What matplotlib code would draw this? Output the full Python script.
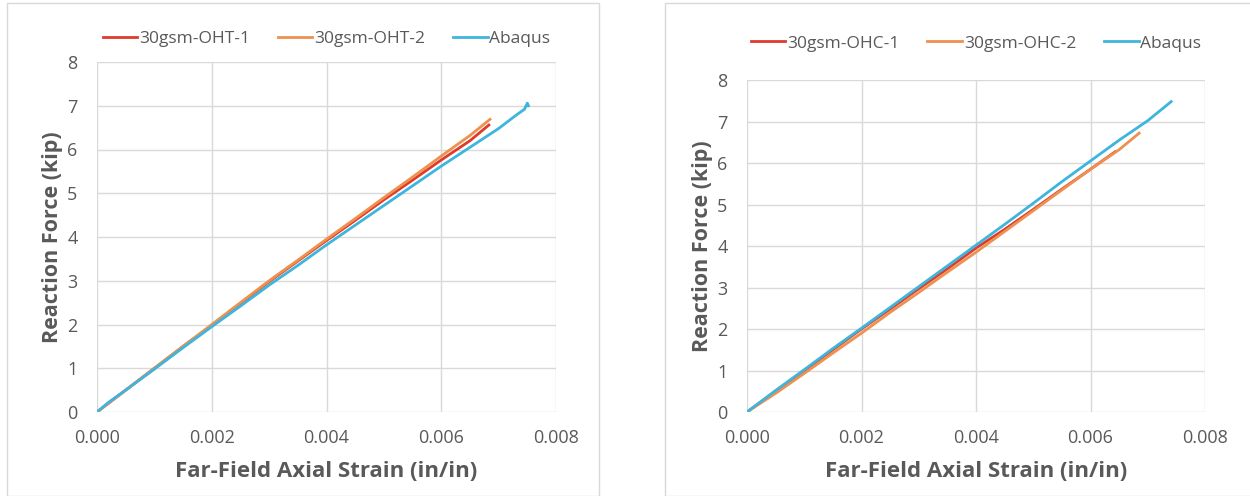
import matplotlib.pyplot as plt
from matplotlib.patches import Rectangle

plt.rcParams['font.family'] = ['Open Sans', 'DejaVu Sans']

# left panel: open-hole tension
oht1_x = [0.0, 0.0002, 0.0005, 0.001, 0.0015, 0.002, 0.0025, 0.003, 0.0035, 0.004, 0.0045, 0.005, 0.0055, 0.006, 0.0065, 0.00683]
oht1_y = [0.0, 0.2, 0.5, 1.0, 1.5, 1.98, 2.48, 2.98, 3.45, 3.92, 4.38, 4.85, 5.3, 5.76, 6.2, 6.56]
oht2_x = [0.0, 0.0002, 0.0005, 0.001, 0.0015, 0.002, 0.0025, 0.003, 0.0035, 0.004, 0.0045, 0.005, 0.0055, 0.006, 0.0065, 0.00685]
oht2_y = [0.0, 0.2, 0.5, 1.0, 1.5, 2.0, 2.5, 3.0, 3.47, 3.95, 4.42, 4.9, 5.37, 5.85, 6.32, 6.69]
abq1_x = [0.0, 0.0002, 0.0005, 0.001, 0.0015, 0.002, 0.0025, 0.003, 0.0035, 0.004, 0.0045, 0.005, 0.0055, 0.006, 0.0065, 0.007, 0.0073, 0.00745, 0.0075, 0.00752]
abq1_y = [0.0, 0.22, 0.5, 0.98, 1.47, 1.95, 2.42, 2.9, 3.35, 3.82, 4.27, 4.72, 5.17, 5.62, 6.05, 6.48, 6.78, 6.92, 7.06, 7.0]

# right panel: open-hole compression
ohc1_x = [0.0, 0.0005, 0.001, 0.0015, 0.002, 0.0025, 0.003, 0.0035, 0.004, 0.0045, 0.005, 0.0055, 0.006, 0.00643]
ohc1_y = [0.0, 0.5, 1.0, 1.5, 2.0, 2.48, 2.97, 3.45, 3.95, 4.4, 4.88, 5.37, 5.85, 6.27]
ohc2_x = [0.0, 0.0005, 0.001, 0.0015, 0.002, 0.0025, 0.003, 0.0035, 0.004, 0.0045, 0.005, 0.0055, 0.006, 0.0065, 0.00685]
ohc2_y = [0.0, 0.45, 0.93, 1.42, 1.9, 2.4, 2.88, 3.37, 3.85, 4.35, 4.85, 5.35, 5.85, 6.32, 6.72]
abq2_x = [0.0, 0.0005, 0.001, 0.0015, 0.002, 0.0025, 0.003, 0.0035, 0.004, 0.0045, 0.005, 0.0055, 0.006, 0.0065, 0.007, 0.00741]
abq2_y = [0.0, 0.52, 1.02, 1.53, 2.02, 2.52, 3.02, 3.52, 4.02, 4.52, 5.03, 5.55, 6.05, 6.55, 7.02, 7.48]

x_ticks = [0.0, 0.002, 0.004, 0.006, 0.008]
y_ticks = [0, 1, 2, 3, 4, 5, 6, 7, 8]

RED = '#E03A2C'
ORANGE = '#EE914F'
BLUE = '#3DB5DD'
GRAY = '#595959'

fig = plt.figure(figsize=(12.5, 4.96), dpi=100)

# light frames round each chart
fig.patches.append(Rectangle((7 / 1250, 0), 592 / 1250, 493 / 496, transform=fig.transFigure,
                             fill=False, ec='#D9D9D9', lw=1))
fig.patches.append(Rectangle((665 / 1250, 0), 600 / 1250, 493 / 496, transform=fig.transFigure,
                             fill=False, ec='#D9D9D9', lw=1))

def make_axes(rect, series, legend_y):
    ax = fig.add_axes(rect)
    for (x, y, c, lab) in series:
        ax.plot(x, y, color=c, lw=2, label=lab)
    ax.set_xlim(0, 0.008)
    ax.set_ylim(0, 8)
    ax.set_xticks(x_ticks)
    ax.set_xticklabels([f'{v:.3f}' for v in x_ticks])
    ax.set_yticks(y_ticks)
    ax.grid(True, color='#D9D9D9', lw=1)
    ax.set_axisbelow(True)
    for s in ax.spines.values():
        s.set_visible(False)
    ax.tick_params(length=0, labelsize=13, labelcolor=GRAY)
    ax.tick_params(axis='x', pad=12)
    ax.tick_params(axis='y', pad=14)
    ax.set_xlabel('Far-Field Axial Strain (in/in)', fontsize=16, fontweight='bold', color=GRAY, labelpad=10)
    ax.set_ylabel('Reaction Force (kip)', fontsize=15.5, fontweight='bold', color=GRAY, labelpad=3)
    ax.legend(loc='center', bbox_to_anchor=(0.5, legend_y), ncol=3, frameon=False,
              fontsize=12.5, labelcolor=GRAY, handlelength=2.0, handletextpad=0.1, columnspacing=1.6)
    return ax

make_axes([97 / 1250, 1 - 412 / 496, 459 / 1250, 350 / 496],
          [(oht1_x, oht1_y, RED, '30gsm-OHT-1'),
           (oht2_x, oht2_y, ORANGE, '30gsm-OHT-2'),
           (abq1_x, abq1_y, BLUE, 'Abaqus')], 1.066)

make_axes([747 / 1250, 1 - 412 / 496, 458 / 1250, 332 / 496],
          [(ohc1_x, ohc1_y, RED, '30gsm-OHC-1'),
           (ohc2_x, ohc2_y, ORANGE, '30gsm-OHC-2'),
           (abq2_x, abq2_y, BLUE, 'Abaqus')], 1.11)

fig.savefig('out.png', dpi=100)
